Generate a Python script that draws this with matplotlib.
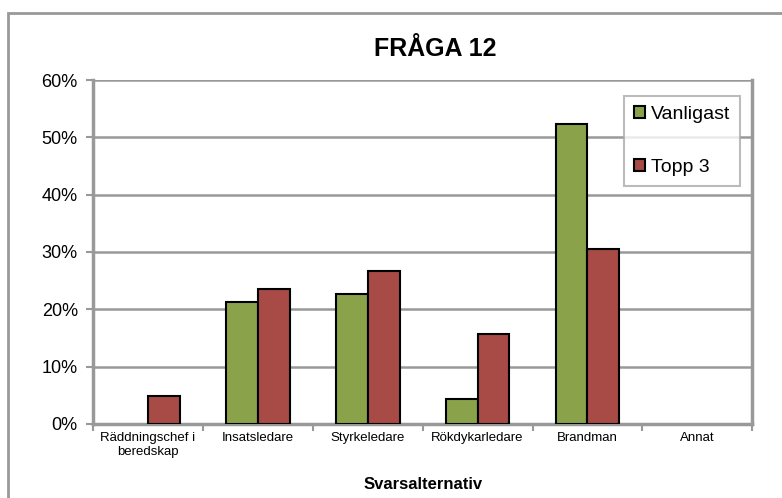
import matplotlib.pyplot as plt
import numpy as np
from matplotlib.patches import Rectangle

categories = ['Räddningschef i\nberedskap', 'Insatsledare', 'Styrkeledare',
              'Rökdykarledare', 'Brandman', 'Annat']
vanligast = [0.0, 21.2, 22.6, 4.4, 52.3, 0.0]
topp3 = [4.8, 23.6, 26.6, 15.6, 30.6, 0.0]
yticks = [0, 10, 20, 30, 40, 50, 60]

plt.rcParams['font.family'] = ['Liberation Sans', 'DejaVu Sans']
grey = '#999999'

fig = plt.figure(figsize=(7.82, 4.98), dpi=100)
ax = fig.add_axes([0.119, 0.149, 0.843, 0.690])

# outer chart frame
fig.patches.append(Rectangle((8 / 782, -0.05), 1.0, 1 - 13 / 498 + 0.05,
                             transform=fig.transFigure, fill=False,
                             edgecolor=grey, linewidth=2))

x = np.arange(len(categories))
w = 0.29
for vals, off, col, lab in [(vanligast, -w / 2, '#8aa34b', 'Vanligast'),
                            (topp3, w / 2, '#a84a46', 'Topp 3')]:
    lw = [1.5 if v > 0 else 0 for v in vals]
    ax.bar(x + off, vals, w, color=col, edgecolor='black',
           linewidth=lw, label=lab, zorder=3)

ax.set_xlim(-0.5, len(categories) - 0.5)
ax.set_ylim(0, 60)
ax.set_yticks(yticks)
ax.set_yticklabels([f'{v}%' for v in yticks], fontsize=13)
ax.yaxis.grid(True, color=grey, linewidth=1.8, zorder=0)
ax.set_axisbelow(True)

ax.set_xticks(x)
ax.set_xticklabels(categories, fontsize=9.5)
ax.tick_params(axis='x', length=0, pad=6)
ax.set_xticks(np.arange(len(categories) + 1) - 0.5, minor=True)
ax.tick_params(axis='x', which='minor', length=5, color=grey, width=1.5)
ax.tick_params(axis='y', length=5, color=grey, width=1.5, pad=6)

ax.spines['top'].set_visible(False)
for s in ['left', 'bottom', 'right']:
    ax.spines[s].set_color(grey)
    ax.spines[s].set_linewidth(2.5)

ax.set_xlabel('Svarsalternativ', fontsize=12, fontweight='bold', labelpad=14)
fig.text(0.556, 0.902, 'FRÅGA 12', fontsize=18, fontweight='bold',
         ha='center', va='center')

leg = ax.legend(loc='upper right', bbox_to_anchor=(0.982, 0.953), fontsize=14,
                frameon=True, fancybox=False, edgecolor='#aaaaaa',
                handlelength=0.6, handleheight=0.6, handletextpad=0.3,
                labelspacing=1.85, borderpad=0.5, borderaxespad=0)
leg.get_frame().set_linewidth(1.5)
for h in leg.legend_handles:
    h.set_linewidth(1.5)

fig.savefig('out.png', dpi=100)
